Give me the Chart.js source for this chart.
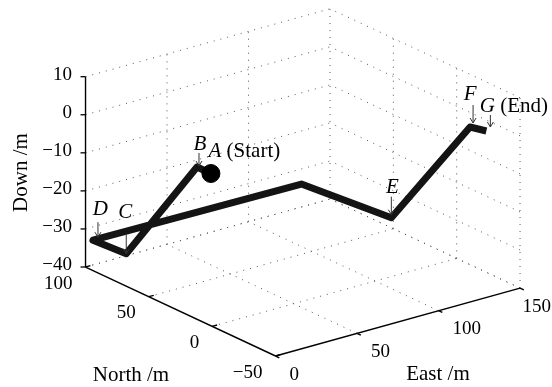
<!DOCTYPE html>
<html>
<head>
<meta charset="utf-8">
<script src="https://cdn.jsdelivr.net/npm/chart.js@4/dist/chart.umd.min.js"></script>
<style>
  html, body { margin: 0; padding: 0; background: #fff; }
  #wrap { width: 552px; height: 387px; }
</style>
</head>
<body>
<div id="wrap"><canvas id="chart"></canvas></div>
<script>
// axis ticks, metres
const eastTicks = [0, 50, 100, 150];
const northTicks = [-50, 0, 50, 100];
const downTicks = [-40, -30, -20, -10, 0, 10];

// flight path: waypoints A..G and one unnamed turn
const pathEast  = [0, 0, 11, 3, 120, 127, 138, 141];
const pathNorth = [1, 12, 82, 98, 84, 22, -26, -35];
const pathDown  = [0, 0, -35, -33, -30, -30, 0, 0];
const waypointNames = ["A", "B", "C", "D", "", "E", "F", "G"];
const waypointNotes = { A: " (Start)", G: " (End)" };

// callout layout in screen px: arrow [dx, tip dy, length], letter [dx, baseline dy]
const callouts = {
  A: { letter: [4, -17] },
  B: { arrow: [2, -1, 13], letter: [3, -16.5] },
  C: { arrow: [0, 0, 19], letter: [-1, -36] },
  D: { arrow: [5, -3, 15], letter: [7.5, -25] },
  E: { arrow: [0, -3, 18], letter: [1, -25] },
  F: { arrow: [3, -4, 18], letter: [0, -27] },
  G: { arrow: [4, -4, 12], letter: [1, -19] }
};

// orthographic view: screen offset of (0,0,0) and screen step per metre of each axis
const view = { ox: 212.2, oy: 174.1, e: [1.63, -0.453], n: [-1.2667, -0.5933], d: [0, -3.806] };
function project(e, n, d) {
  return {
    x: view.ox + view.e[0] * e + view.n[0] * n + view.d[0] * d,
    y: view.oy + view.e[1] * e + view.n[1] * n + view.d[1] * d
  };
}

const eMin = eastTicks[0], eMax = eastTicks[eastTicks.length - 1];
const nMin = northTicks[0], nMax = northTicks[northTicks.length - 1];
const dMin = downTicks[0], dMax = downTicks[downTicks.length - 1];

function seg(a, b, style) {
  return Object.assign({
    data: [project(...a), project(...b)],
    showLine: true, pointRadius: 0, fill: false
  }, style);
}

const dotted = { borderColor: "#555", borderWidth: 1, borderDash: [1, 6], order: 5 };
const solid = { borderColor: "#000", borderWidth: 1.4, order: 4 };

const gridSets = [];
// back-left wall (North = max) and back-right wall (East = max)
downTicks.forEach(d => {
  gridSets.push(seg([eMin, nMax, d], [eMax, nMax, d], dotted));
  gridSets.push(seg([eMax, nMin, d], [eMax, nMax, d], dotted));
});
eastTicks.slice(1).forEach(e => {
  gridSets.push(seg([e, nMax, dMin], [e, nMax, dMax], dotted));
  gridSets.push(seg([e, nMin, dMin], [e, nMax, dMin], dotted));
});
northTicks.slice(0, -1).forEach(n => {
  gridSets.push(seg([eMax, n, dMin], [eMax, n, dMax], dotted));
});
northTicks.slice(1).forEach(n => {
  gridSets.push(seg([eMin, n, dMin], [eMax, n, dMin], dotted));
});

// axes with their tick marks
const axisSets = [
  seg([eMin, nMax, dMin], [eMin, nMax, dMax], solid),
  seg([eMin, nMax, dMin], [eMin, nMin, dMin], solid),
  seg([eMin, nMin, dMin], [eMax, nMin, dMin], solid)
];
northTicks.forEach(n => axisSets.push(seg([eMin, n, dMin], [eMin + 3, n, dMin], solid)));
eastTicks.forEach(e => axisSets.push(seg([e, nMin, dMin], [e, nMin - 3, dMin], solid)));

const pathPoints = pathEast.map((e, i) => project(e, pathNorth[i], pathDown[i]));

const datasets = [
  {
    data: [pathPoints[0]], showLine: false,
    pointRadius: 9, pointBackgroundColor: "#000", pointBorderColor: "#000", order: 1
  },
  {
    data: pathPoints, showLine: true, pointRadius: 0,
    borderColor: "#141414", borderWidth: 7,
    borderJoinStyle: "round", borderCapStyle: "butt", order: 2
  }
].concat(axisSets, gridSets);

const fmt = v => (v < 0 ? "\u2212" + Math.abs(v) : String(v));

const textPlugin = {
  id: "labels3d",
  afterDatasetsDraw(chart) {
    const { ctx, scales: { x, y } } = chart;
    const px = p => ({ x: x.getPixelForValue(p.x), y: y.getPixelForValue(p.y) });
    ctx.save();
    ctx.fillStyle = "#000";
    ctx.strokeStyle = "#000";
    ctx.lineWidth = 1.3;

    // down ticks: short marks to the left and labels
    ctx.font = '19px "Liberation Serif"';
    ctx.textAlign = "right";
    downTicks.forEach(d => {
      const p = px(project(eMin, nMax, d));
      ctx.beginPath(); ctx.moveTo(p.x - 5, p.y); ctx.lineTo(p.x, p.y); ctx.stroke();
      ctx.fillText(fmt(d), p.x - 13.5, p.y + 3);
    });
    northTicks.forEach(n => {
      const p = px(project(eMin, n, dMin));
      ctx.fillText(fmt(n), p.x - 13, p.y + 21.5);
    });
    ctx.textAlign = "left";
    eastTicks.forEach(e => {
      const p = px(project(e, nMin, dMin));
      const w = ctx.measureText(fmt(e)).width;
      ctx.fillText(fmt(e), Math.min(p.x + 14, chart.width - w - 1), p.y + 23.5);
    });

    // axis titles
    ctx.font = '21px "Liberation Serif"';
    ctx.textAlign = "center";
    ctx.fillText("North /m", 131, 381);
    ctx.fillText("East /m", 438, 380);
    ctx.save();
    ctx.translate(27, 172.5);
    ctx.rotate(-Math.PI / 2);
    ctx.fillText("Down /m", 0, 0);
    ctx.restore();

    // waypoint callouts
    ctx.strokeStyle = "#333";
    ctx.lineWidth = 1;
    waypointNames.forEach((name, i) => {
      const c = callouts[name];
      if (!c) return;
      const p = px(pathPoints[i]);
      if (c.arrow) {
        const tx = p.x + c.arrow[0], ty = p.y + c.arrow[1];
        ctx.beginPath();
        ctx.moveTo(tx, ty - c.arrow[2]); ctx.lineTo(tx, ty);
        ctx.moveTo(tx - 3, ty - 5); ctx.lineTo(tx, ty); ctx.lineTo(tx + 3, ty - 5);
        ctx.stroke();
      }
      const lx = p.x + c.letter[0], ly = p.y + c.letter[1];
      ctx.font = 'italic 21px "Liberation Serif"';
      ctx.textAlign = "center";
      ctx.fillText(name, lx, ly);
      if (waypointNotes[name]) {
        const w = ctx.measureText(name).width;
        ctx.font = '21px "Liberation Serif"';
        ctx.textAlign = "left";
        ctx.fillText(waypointNotes[name], lx + w / 2, ly);
      }
    });
    ctx.restore();
  }
};

new Chart(document.getElementById("chart"), {
  type: "scatter",
  data: { datasets },
  options: {
    responsive: true,
    maintainAspectRatio: false,
    animation: false,
    layout: { padding: 0, autoPadding: false },
    scales: {
      x: { type: "linear", min: 0, max: 552, display: false },
      y: { type: "linear", min: 0, max: 387, reverse: true, display: false }
    },
    plugins: { legend: { display: false }, tooltip: { enabled: false } },
    elements: { line: { tension: 0 } }
  },
  plugins: [textPlugin]
});
</script>
</body>
</html>
